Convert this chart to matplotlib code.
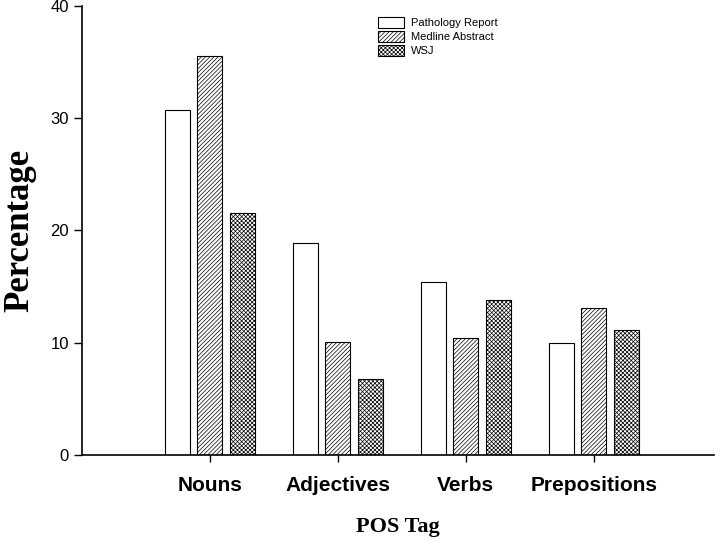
import matplotlib.pyplot as plt
import numpy as np

# data
categories = ['Nouns', 'Adjectives', 'Verbs', 'Prepositions']
series_names = ['Pathology Report', 'Medline Abstract', 'WSJ']
pathology = [30.7, 18.9, 15.4, 10.0]
medline = [35.5, 10.1, 10.4, 13.1]
wsj = [21.6, 6.8, 13.8, 11.1]

plt.rcParams['hatch.linewidth'] = 0.5
plt.rcParams['font.family'] = ['Arial', 'Liberation Sans', 'DejaVu Sans']

fig = plt.figure(figsize=(7.22, 5.42), dpi=100)
ax = fig.add_axes([0.1136, 0.1605, 0.8754, 0.8285])

x = np.arange(len(categories))
width = 0.195
step = 0.254
hatches = ['', '////////', 'xxxxxxxx']
for i, (vals, h, name) in enumerate(zip([pathology, medline, wsj], hatches, series_names)):
    ax.bar(x + (i - 1) * step, vals, width, facecolor='white', edgecolor='black',
           linewidth=0.8, hatch=h, label=name)

ax.set_xlim(-1.0, 3.94)
ax.set_ylim(0, 40)
ax.set_yticks([0, 10, 20, 30, 40])
ax.set_xticks(x)
ax.set_xticklabels(categories, fontsize=15, fontweight='bold')
ax.tick_params(axis='y', labelsize=12, length=6, width=1, direction='out')
ax.tick_params(axis='x', length=5, width=1, direction='out', pad=10)
ax.spines['top'].set_visible(False)
ax.spines['right'].set_visible(False)
ax.spines['left'].set_linewidth(1.2)
ax.spines['bottom'].set_linewidth(1.2)

ax.set_ylabel('Percentage', family=['Liberation Serif', 'DejaVu Serif'],
              fontsize=25, fontweight='bold', labelpad=10)
ax.set_xlabel('POS Tag', family=['Liberation Serif', 'DejaVu Serif'],
              fontsize=16, fontweight='bold', labelpad=16)

ax.legend(loc='upper left', bbox_to_anchor=(0.462, 0.985), frameon=False,
          fontsize=8, handlelength=2.3, handleheight=1.1, labelspacing=0.25,
          handletextpad=0.6, borderaxespad=0)

fig.savefig('out.png', dpi=100)
